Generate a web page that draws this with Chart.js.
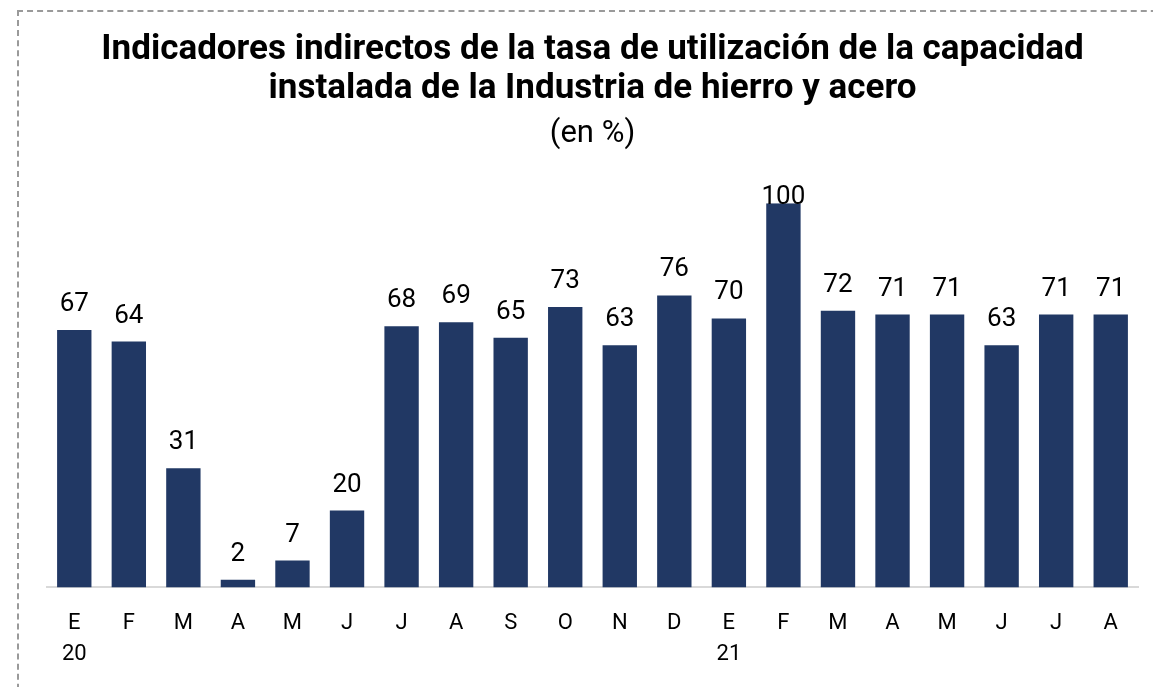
<!DOCTYPE html>
<html>
<head>
<meta charset="utf-8">
<script src="https://cdn.jsdelivr.net/npm/chart.js@4"></script>
<style>
  html, body { margin: 0; padding: 0; background: #fff; }
  body { width: 1153px; height: 687px; overflow: hidden; position: relative; }
  #frame {
    position: absolute; left: 17px; top: 10px; width: 1200px; height: 720px;
    border: 2px dashed #9a9a9a; box-sizing: border-box;
  }
  #wrap { position: absolute; left: 0; top: 0; width: 1153px; height: 687px; }
</style>
</head>
<body>
<div id="frame"></div>
<div id="wrap"><canvas id="chart"></canvas></div>
<script>
// categories: months Jan 2020 - Aug 2021
var months = [['E', '20'], 'F', 'M', 'A', 'M', 'J', 'J', 'A', 'S', 'O', 'N', 'D',
              ['E', '21'], 'F', 'M', 'A', 'M', 'J', 'J', 'A'];
var utilizacion = [67, 64, 31, 2, 7, 20, 68, 69, 65, 73, 63, 76, 70, 100, 72, 71, 71, 63, 71, 71];

var barColor = '#213864';

// draws the value above each bar
var valueLabels = {
    id: 'valueLabels',
    afterDatasetsDraw: function(chart) {
        var ctx = chart.ctx;
        var meta = chart.getDatasetMeta(0);
        ctx.save();
        ctx.font = '26px Roboto';
        ctx.fillStyle = '#000';
        ctx.textAlign = 'center';
        ctx.textBaseline = 'alphabetic';
        meta.data.forEach(function(bar, i) {
            var y = Math.max(bar.y - 19, chart.chartArea.top + 1);
            ctx.fillText(utilizacion[i], bar.x, y);
        });
        ctx.restore();
    }
};

new Chart(document.getElementById('chart'), {
    type: 'bar',
    data: {
        labels: months,
        datasets: [{
            data: utilizacion,
            backgroundColor: barColor,
            barPercentage: 0.63,
            categoryPercentage: 1
        }]
    },
    options: {
        responsive: true,
        maintainAspectRatio: false,
        animation: false,
        layout: {
            padding: { left: 47, right: 15, top: 31, bottom: 4 }
        },
        plugins: {
            legend: { display: false },
            tooltip: { enabled: false },
            title: {
                display: true,
                text: ['Indicadores indirectos de la tasa de utilización de la capacidad',
                       'instalada de la Industria de hierro y acero'],
                color: '#000',
                font: { family: 'Roboto', size: 35, weight: 'bold', lineHeight: 1.1 },
                padding: { top: 0, bottom: 4 }
            },
            subtitle: {
                display: true,
                text: '(en %)',
                color: '#000',
                font: { family: 'Roboto', size: 31, weight: 'normal', lineHeight: 1.2 },
                padding: { top: 4, bottom: 50 }
            }
        },
        scales: {
            x: {
                grid: { display: false },
                border: { display: true, color: '#d9d9d9', width: 2 },
                ticks: {
                    color: '#000',
                    font: { family: 'Roboto', size: 22, lineHeight: 1.4 },
                    padding: 13,
                    maxRotation: 0,
                    autoSkip: false
                }
            },
            y: {
                display: false,
                min: 0,
                max: 100
            }
        }
    },
    plugins: [valueLabels]
});
</script>
</body>
</html>
